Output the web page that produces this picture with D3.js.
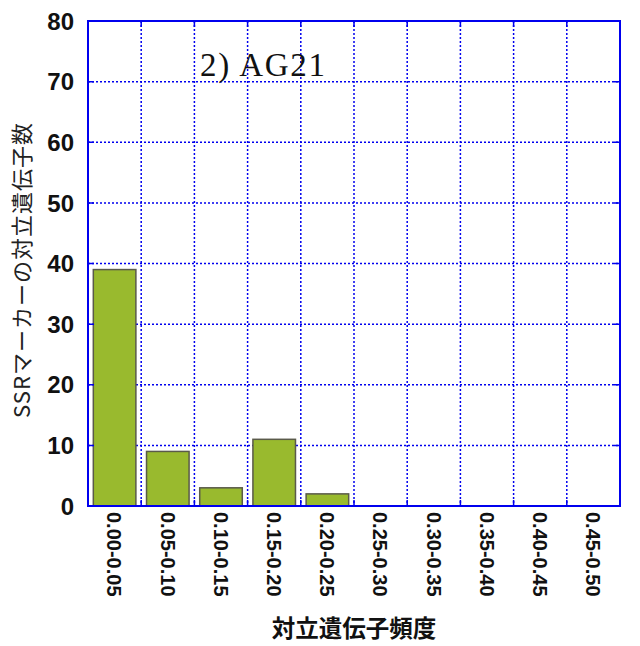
<!DOCTYPE html>
<html>
<head>
<meta charset="utf-8">
<script src="https://cdn.jsdelivr.net/npm/d3@7"></script>
<style>
  body { margin: 0; background: #fff; }
</style>
</head>
<body>
<div class="container"></div>
<script>
const categories = ["0.00-0.05", "0.05-0.10", "0.10-0.15", "0.15-0.20", "0.20-0.25",
                    "0.25-0.30", "0.30-0.35", "0.35-0.40", "0.40-0.45", "0.45-0.50"]
const counts = [39, 9, 3, 11, 2, 0, 0, 0, 0, 0]
const yTicks = [0, 10, 20, 30, 40, 50, 60, 70, 80]
const panelLabel = "2) AG21"
const xTitle = "対立遺伝子頻度"
const yTitle = "SSRマーカーの対立遺伝子数"

const plotLeft = 88, plotRight = 620, plotTop = 21, plotBottom = 506
const blue = "#0000ee"

const svg = d3.select(".container")
              .append("svg")
              .attr("width", 640)
              .attr("height", 646)

const x = d3.scaleBand()
            .domain(categories)
            .range([plotLeft, plotRight])
            .paddingInner(0.2)
            .paddingOuter(0.1)

const y = d3.scaleLinear()
            .domain([0, 80])
            .range([plotBottom, plotTop])

// band edges (between bars)
const edge = (d) => x(d) - x.step() * 0.1

// grid
svg.append("g")
   .selectAll("line")
   .data(yTicks.filter(t => t > 0 && t < 80))
   .enter()
   .append("line")
   .attr("x1", plotLeft).attr("x2", plotRight)
   .attr("y1", d => y(d)).attr("y2", d => y(d))
   .attr("stroke", blue)
   .attr("stroke-width", 1.5)
   .attr("stroke-dasharray", "2,2")

svg.append("g")
   .selectAll("line")
   .data(categories.slice(1))
   .enter()
   .append("line")
   .attr("x1", d => edge(d)).attr("x2", d => edge(d))
   .attr("y1", plotTop).attr("y2", plotBottom)
   .attr("stroke", blue)
   .attr("stroke-width", 1.5)
   .attr("stroke-dasharray", "2,2")

// bars
svg.append("g")
   .selectAll("rect")
   .data(categories.map((c, i) => ({cat: c, v: counts[i]})).filter(d => d.v > 0))
   .enter()
   .append("rect")
   .attr("x", d => x(d.cat))
   .attr("width", x.bandwidth())
   .attr("y", d => y(d.v))
   .attr("height", d => y(0) - y(d.v))
   .attr("fill", "#99ba2e")
   .attr("stroke", "#5a5a4a")
   .attr("stroke-width", 1.5)

// inner ticks
const tl = 6
svg.append("g")
   .selectAll("path")
   .data(yTicks.filter(t => t > 0 && t < 80))
   .enter()
   .append("path")
   .attr("d", d => `M${plotLeft},${y(d)}h${tl}M${plotRight},${y(d)}h${-tl}`)
   .attr("stroke", blue)
   .attr("stroke-width", 1.5)

svg.append("g")
   .selectAll("path")
   .data(categories.slice(1))
   .enter()
   .append("path")
   .attr("d", d => `M${edge(d)},${plotBottom}v${-tl}M${edge(d)},${plotTop}v${tl}`)
   .attr("stroke", blue)
   .attr("stroke-width", 1.5)

// frame
svg.append("rect")
   .attr("x", plotLeft).attr("y", plotTop)
   .attr("width", plotRight - plotLeft).attr("height", plotBottom - plotTop)
   .attr("fill", "none")
   .attr("stroke", blue)
   .attr("stroke-width", 2)

// y tick labels
svg.append("g")
   .selectAll("text")
   .data(yTicks)
   .enter()
   .append("text")
   .attr("x", 74)
   .attr("y", d => y(d))
   .attr("dy", "0.36em")
   .attr("text-anchor", "end")
   .attr("font-family", "Liberation Sans, Arial, sans-serif")
   .attr("font-weight", "bold")
   .attr("font-size", 24)
   .attr("fill", "#111")
   .text(d => d)

// x tick labels, rotated to read top-down
svg.append("g")
   .selectAll("text")
   .data(categories)
   .enter()
   .append("text")
   .attr("transform", d => `translate(${x(d) + x.bandwidth() / 2},${plotBottom + 6}) rotate(90)`)
   .attr("dy", "0.36em")
   .attr("font-family", "Liberation Sans, Arial, sans-serif")
   .attr("font-weight", "bold")
   .attr("font-size", 20)
   .attr("fill", "#111")
   .text(d => d)

// axis titles
svg.append("text")
   .attr("x", (plotLeft + plotRight) / 2)
   .attr("y", 637)
   .attr("text-anchor", "middle")
   .attr("font-family", "Noto Sans CJK JP")
   .attr("font-weight", "bold")
   .attr("font-size", 23.5)
   .attr("fill", "#111")
   .text(xTitle)

svg.append("text")
   .attr("transform", "translate(30,270) rotate(-90)")
   .attr("text-anchor", "middle")
   .attr("letter-spacing", 1)
   .attr("font-family", "Noto Sans CJK JP")
   .attr("font-size", 22)
   .attr("fill", "#222")
   .text(yTitle)

// panel label
svg.append("text")
   .attr("x", 200)
   .attr("y", 76)
   .attr("textLength", 125)
   .attr("lengthAdjust", "spacing")
   .attr("font-family", "Liberation Serif, serif")
   .attr("font-size", 33)
   .attr("fill", "#111")
   .text(panelLabel)
</script>
</body>
</html>
